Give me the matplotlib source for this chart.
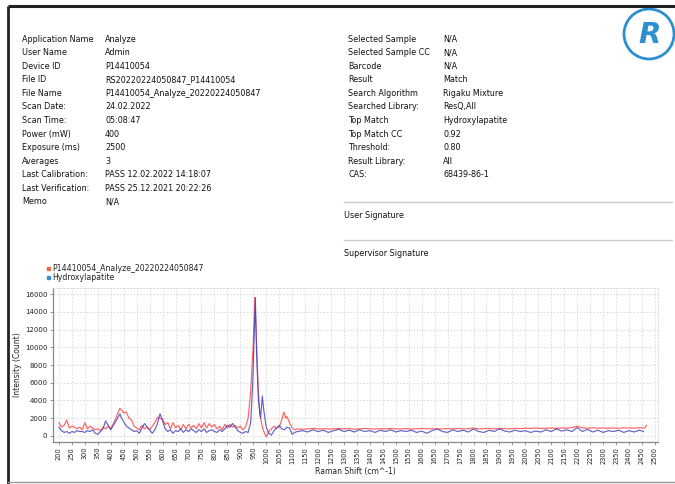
import matplotlib
matplotlib.use("Agg")
import matplotlib.pyplot as plt
from matplotlib.patches import Circle, Rectangle
from matplotlib import font_manager

names = {f.name for f in font_manager.fontManager.ttflist}
cond = "DejaVu Sans Condensed" if "DejaVu Sans Condensed" in names else None
plt.rcParams['font.family'] = ['DejaVu Sans']

# ---------------- data ----------------
left_labels = ["Application Name", "User Name", "Device ID", "File ID", "File Name",
               "Scan Date:", "Scan Time:", "Power (mW)", "Exposure (ms)", "Averages",
               "Last Calibration:", "Last Verification:", "Memo"]
left_values = ["Analyze", "Admin", "P14410054", "RS20220224050847_P14410054",
               "P14410054_Analyze_20220224050847", "24.02.2022", "05:08:47", "400",
               "2500", "3", "PASS 12.02.2022 14:18:07", "PASS 25.12.2021 20:22:26", "N/A"]
right_labels = ["Selected Sample", "Selected Sample CC", "Barcode", "Result",
                "Search Algorithm", "Searched Library:", "Top Match", "Top Match CC",
                "Threshold:", "Result Library:", "CAS:"]
right_values = ["N/A", "N/A", "N/A", "Match", "Rigaku Mixture", "ResQ,All",
                "Hydroxylapatite", "0.92", "0.80", "All", "68439-86-1"]
signatures = ["User Signature", "Supervisor Signature"]

series_names = ["P14410054_Analyze_20220224050847", "Hydroxylapatite"]

sample_shift = [200, 210, 220, 230, 240, 250, 260, 270, 280, 290, 300, 310, 320, 330, 340,
                350, 360, 370, 380, 390, 400, 410, 420, 430, 435, 440, 450, 460, 470, 480,
                490, 500, 510, 520, 530, 540, 550, 560, 570, 580, 590, 600, 610, 620, 630,
                640, 650, 660, 670, 680, 690, 700, 710, 720, 730, 740, 750, 760, 770, 780,
                790, 800, 810, 820, 830, 840, 850, 860, 870, 880, 890, 900, 910, 920, 930,
                940, 950, 956, 962, 968, 975, 985, 992, 1000, 1010, 1020, 1030, 1040, 1050,
                1060, 1068, 1075, 1080, 1090, 1100, 1110,
                1120, 1140, 1160, 1180, 1200, 1220, 1240, 1260, 1280, 1300, 1320, 1340,
                1360, 1380, 1400, 1420, 1440, 1460, 1480, 1500, 1520, 1540, 1560, 1580,
                1600, 1620, 1640, 1660, 1680, 1700, 1720, 1740, 1760, 1780, 1800, 1820,
                1840, 1860, 1880, 1900, 1920, 1940, 1960, 1980, 2000, 2020, 2040, 2060,
                2080, 2100, 2120, 2140, 2160, 2180, 2200, 2220, 2240, 2260, 2280, 2300,
                2320, 2340, 2360, 2380, 2400, 2420, 2440, 2460, 2468]
sample_counts = [1500, 1000, 1200, 1800, 900, 1100, 1000, 800, 1000, 700, 1500, 800, 1100, 900, 700,
                 800, 600, 1000, 800, 1100, 800, 1400, 2000, 2800, 3100, 3000, 2600, 2700, 2000, 1800,
                 1100, 900, 700, 1200, 800, 1000, 700, 1100, 1500, 2100, 2000, 1900, 1300, 1500, 800,
                 1500, 900, 1200, 700, 1300, 800, 1300, 900, 1200, 800, 1400, 900, 1500, 900, 1400,
                 1000, 1300, 800, 1100, 700, 1300, 900, 1300, 1000, 1200, 900, 1100, 700, 1000, 2000,
                 5000, 10500, 15600, 11000, 6000, 2500, 1000, 400, -100, 500, 800, 1100, 900, 1000,
                 1800, 2700, 2000, 2200, 1500, 900, 700,
                 800, 750, 800, 850, 800, 820, 780, 800, 850, 800, 820, 760,
                 800, 850, 800, 780, 820, 800, 850, 790, 800, 830, 780, 800,
                 850, 800, 820, 780, 800, 830, 800, 850, 800, 820, 900, 800,
                 820, 850, 800, 850, 820, 800, 850, 830, 880, 850, 900, 850,
                 880, 900, 860, 900, 880, 950, 1100, 900, 880, 920, 880, 900,
                 870, 900, 880, 920, 900, 880, 920, 900, 1200]

ref_shift = [200, 210, 220, 230, 240, 250, 260, 270, 280, 290, 300, 310, 320, 330, 340,
             350, 360, 370, 380, 390, 400, 410, 420, 430, 435, 440, 450, 460, 470, 480,
             490, 500, 510, 520, 530, 540, 550, 560, 570, 580, 590, 600, 610, 620, 630,
             640, 650, 660, 670, 680, 690, 700, 710, 720, 730, 740, 750, 760, 770, 780,
             790, 800, 810, 820, 830, 840, 850, 860, 870, 880, 890, 900, 910, 920, 930,
             940, 948, 954, 958, 963, 970, 978, 985, 990, 1000, 1010, 1020, 1030, 1040,
             1050, 1060, 1070, 1080, 1090, 1100, 1110,
             1120, 1140, 1160, 1180, 1200, 1220, 1240, 1260, 1280, 1300, 1320, 1340,
             1360, 1380, 1400, 1420, 1440, 1460, 1480, 1500, 1520, 1540, 1560, 1580,
             1600, 1620, 1640, 1660, 1680, 1700, 1720, 1740, 1760, 1780, 1800, 1820,
             1840, 1860, 1880, 1900, 1920, 1940, 1960, 1980, 2000, 2020, 2040, 2060,
             2080, 2100, 2120, 2140, 2160, 2180, 2200, 2220, 2240, 2260, 2280, 2300,
             2320, 2340, 2360, 2380, 2400, 2420, 2440, 2456]
ref_counts = [1000, 600, 400, 500, 300, 500, 400, 600, 500, 500, 400, 600, 500, 700, 300,
              200, 500, 800, 1700, 1200, 700, 1200, 1700, 2200, 2500, 2100, 1600, 1100, 900, 700,
              500, 600, 300, 900, 1400, 1000, 700, 300, 700, 1400, 2500, 1700, 800, 500, 700,
              300, 600, 500, 800, 400, 700, 500, 800, 600, 400, 700, 500, 800, 400, 600,
              700, 500, 400, 700, 500, 800, 1200, 1000, 1400, 1000, 600, 400, 300, 500, 400,
              1500, 6000, 12000, 15600, 9000, 4000, 2000, 4500, 3000, 1000, 300, 100, 600, 900,
              1200, 800, 700, 1000, 900, 200, 400,
              500, 600, 450, 700, 500, 650, 400, 600, 750, 500, 650, 450,
              700, 500, 600, 400, 650, 500, 700, 450, 600, 500, 650, 400,
              550, 300, 600, 800, 500, 400, 700, 500, 650, 450, 800, 500,
              400, 650, 500, 800, 550, 450, 650, 500, 600, 400, 550, 450,
              700, 500, 800, 550, 700, 500, 950, 500, 750, 450, 650, 400,
              600, 500, 650, 400, 600, 450, 650, 500]

x_ticks = list(range(200, 2501, 50))
y_ticks = list(range(0, 16001, 2000))

# ---------------- figure ----------------
W, H = 675, 484
fig = plt.figure(figsize=(W / 100, H / 100), dpi=100)
fig.patch.set_facecolor("white")

ov = fig.add_axes([0, 0, 1, 1], zorder=0)
ov.set_xlim(0, W)
ov.set_ylim(H, 0)
ov.axis("off")

# page borders
ov.plot([7.5, W], [6, 6], color="#222222", lw=2.2, solid_capstyle="butt")
ov.plot([7.5, 7.5], [6, H], color="#222222", lw=2.0, solid_capstyle="butt")
ov.plot([8, W], [482, 482], color="#999999", lw=1.0)

if cond:
    txt_kw = dict(fontsize=6.5, family=[cond, "DejaVu Sans"], color="#111111", va="center", ha="left")
    leg_kw = dict(fontsize=6.0, family=[cond, "DejaVu Sans"], color="#222222", va="center", ha="left")
else:
    txt_kw = dict(fontsize=5.8, color="#111111", va="center", ha="left")
    leg_kw = dict(fontsize=5.6, color="#222222", va="center", ha="left")

row0, dy = 39, 13.58
for i, (lab, val) in enumerate(zip(left_labels, left_values)):
    y = row0 + i * dy
    ov.text(22, y, lab, **txt_kw)
    ov.text(105, y, val, **txt_kw)
for i, (lab, val) in enumerate(zip(right_labels, right_values)):
    y = row0 + i * dy
    ov.text(348.5, y, lab, **txt_kw)
    ov.text(443, y, val, **txt_kw)

for yline, ytxt, s in zip([201.5, 240], [215.5, 254], signatures):
    ov.plot([344, 672], [yline, yline], color="#cccccc", lw=1.0)
    ov.text(344, ytxt, s, **txt_kw)

# logo
logo_c = "#2b8fd0"
ov.add_patch(Circle((649, 34), 25, fill=False, ec=logo_c, lw=2.0))
ov.text(650, 35, "R", fontsize=21, fontweight="bold", fontstyle="italic",
        color=logo_c, ha="center", va="center")

# legend
leg_cols = ["#ef6a3a", "#3a8fd5"]
for i, (name, c) in enumerate(zip(series_names, leg_cols)):
    y = 268.3 + i * 9
    ov.add_patch(Rectangle((46.5, y - 1.6), 3.2, 3.2, color=c))
    ov.text(52.5, y, name, **leg_kw)

# ---------------- chart ----------------
ax = fig.add_axes([53 / W, 1 - 442 / H, (658 - 53) / W, (442 - 288) / H], zorder=2)
ax.patch.set_alpha(0)
ax.plot(sample_shift, sample_counts, color="#ff3b3b", lw=0.85, alpha=0.8, zorder=3)
ax.plot(ref_shift, ref_counts, color="#3c3cb8", lw=0.85, alpha=0.8, zorder=4)

ax.set_xlim(177, 2512)
ax.set_ylim(-680, 16680)
ax.set_xticks(x_ticks)
ax.set_yticks(y_ticks)
ax.set_xticklabels([str(v) for v in x_ticks], rotation=90)
ax.tick_params(axis="both", labelsize=5.0, length=2.5, width=0.6, color="#888888",
               labelcolor="#222222", pad=1.5)
ax.tick_params(axis="x", labelsize=4.8, pad=1.0)
ax.grid(True, color="#d6d6d6", lw=0.6, linestyle=(0, (2, 2)))
for side in ["left", "bottom"]:
    ax.spines[side].set_color("#888888")
    ax.spines[side].set_linewidth(0.9)
for side in ["top", "right"]:
    ax.spines[side].set_color("#d6d6d6")
    ax.spines[side].set_linewidth(0.6)
    ax.spines[side].set_linestyle((0, (2, 2)))
ax.set_ylabel("Intensity (Count)", fontsize=5.5, color="#222222", labelpad=2)
ax.set_xlabel("Raman Shift (cm^-1)", fontsize=5.5, color="#222222", labelpad=2.0)

fig.savefig("out.png", dpi=100)
